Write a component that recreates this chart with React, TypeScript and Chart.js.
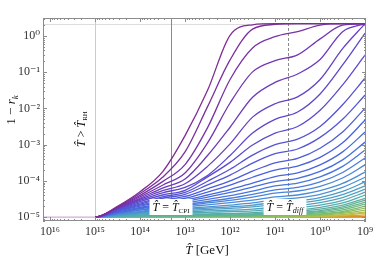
import React, { useEffect, useRef } from 'react';
import { Chart, registerables } from 'chart.js';

Chart.register(...registerables);

// Temperatures (GeV) at which every curve is sampled
const T_GEV = [1.43e16, 1e15, 3.16e14, 1e14, 3.16e13, 1e13, 3.16e12, 1e12, 3.16e11, 1e11, 3.16e10, 1e10, 3.16e9, 1e9];

// log10(1 - r_k) for each mode k, top (purple) to bottom (orange)
const c01 = [-5, -5, -4.7, -4.3, -3.75, -2.75, -1.5, 0.02, 0.31, 0.34, 0.34, 0.34, 0.34, 0.34];
const c02 = [-5, -5, -4.72, -4.35, -3.9, -3.2, -1.95, -0.66, 0.19, 0.32, 0.34, 0.34, 0.34, 0.34];
const c03 = [-5, -5, -4.73, -4.4, -4.02, -3.55, -2.53, -1.2, -0.33, -0.02, 0.12, 0.3, 0.34, 0.34];
const c04 = [-5, -5, -4.74, -4.44, -4.12, -3.78, -2.95, -1.85, -0.99, -0.68, -0.52, -0.08, 0.3, 0.34];
const c05 = [-5, -5, -4.75, -4.48, -4.2, -3.95, -3.3, -2.52, -1.69, -1.28, -1.05, -0.65, 0.12, 0.34];
const c06 = [-5, -5, -4.76, -4.51, -4.27, -4.08, -3.6, -2.98, -2.24, -1.87, -1.68, -1.2, -0.35, 0.34];
const c07 = [-5, -5, -4.77, -4.54, -4.33, -4.18, -3.85, -3.3, -2.68, -2.3, -2.1, -1.6, -0.8, 0.08];
const c08 = [-5, -5, -4.78, -4.57, -4.39, -4.26, -3.89, -3.49, -3.01, -2.68, -2.5, -2.05, -1.35, -0.52];
const c09 = [-5, -5, -4.8, -4.61, -4.44, -4.32, -4.01, -3.68, -3.29, -3.0, -2.85, -2.5, -1.9, -1.16];
const c10 = [-5, -5, -4.81, -4.64, -4.48, -4.37, -4.11, -3.84, -3.51, -3.25, -3.12, -2.8, -2.3, -1.63];
const c11 = [-5, -5, -4.83, -4.67, -4.53, -4.43, -4.22, -4.0, -3.73, -3.5, -3.38, -3.1, -2.65, -1.99];
const c12 = [-5, -5, -4.84, -4.7, -4.57, -4.48, -4.31, -4.12, -3.9, -3.7, -3.59, -3.35, -2.95, -2.32];
const c13 = [-5, -5, -4.86, -4.73, -4.62, -4.53, -4.39, -4.24, -4.06, -3.88, -3.78, -3.56, -3.2, -2.65];
const c14 = [-5, -5, -4.87, -4.75, -4.65, -4.57, -4.45, -4.32, -4.17, -4.02, -3.93, -3.74, -3.42, -2.93];
const c15 = [-5, -5, -4.88, -4.77, -4.68, -4.61, -4.51, -4.41, -4.28, -4.14, -4.06, -3.89, -3.6, -3.15];
const c16 = [-5, -5, -4.9, -4.8, -4.71, -4.65, -4.57, -4.48, -4.37, -4.25, -4.18, -4.03, -3.77, -3.37];
const c17 = [-5, -5, -4.9, -4.81, -4.74, -4.68, -4.61, -4.54, -4.45, -4.34, -4.28, -4.15, -3.92, -3.56];
const c18 = [-5, -5, -4.92, -4.84, -4.77, -4.72, -4.66, -4.6, -4.53, -4.44, -4.39, -4.27, -4.07, -3.76];
const c19 = [-5, -5, -4.93, -4.86, -4.8, -4.76, -4.72, -4.67, -4.61, -4.52, -4.47, -4.37, -4.18, -3.9];
const c20 = [-5, -5, -4.94, -4.88, -4.83, -4.79, -4.75, -4.72, -4.67, -4.59, -4.55, -4.46, -4.29, -4.03];
const c21 = [-5, -5, -4.95, -4.9, -4.85, -4.82, -4.79, -4.76, -4.72, -4.65, -4.61, -4.53, -4.38, -4.14];
const c22 = [-5, -5, -4.96, -4.92, -4.88, -4.86, -4.83, -4.81, -4.78, -4.72, -4.68, -4.6, -4.46, -4.23];
const c23 = [-5, -5, -4.97, -4.94, -4.91, -4.89, -4.87, -4.85, -4.83, -4.77, -4.74, -4.67, -4.54, -4.31];
const c24 = [-5, -5, -4.98, -4.95, -4.93, -4.92, -4.91, -4.9, -4.88, -4.83, -4.8, -4.73, -4.61, -4.39];
const c25 = [-5, -5, -4.98, -4.97, -4.95, -4.94, -4.93, -4.92, -4.91, -4.87, -4.84, -4.78, -4.67, -4.48];
const c26 = [-5, -5, -4.99, -4.97, -4.96, -4.96, -4.95, -4.94, -4.93, -4.9, -4.87, -4.82, -4.72, -4.53];
const c27 = [-5, -5, -4.99, -4.98, -4.97, -4.97, -4.96, -4.96, -4.95, -4.92, -4.9, -4.85, -4.76, -4.59];
const c28 = [-5, -5, -4.99, -4.99, -4.98, -4.98, -4.97, -4.97, -4.96, -4.94, -4.92, -4.88, -4.8, -4.64];
const c29 = [-5, -5, -5, -4.99, -4.99, -4.98, -4.98, -4.98, -4.97, -4.95, -4.94, -4.91, -4.84, -4.7];
const c30 = [-5, -5, -5, -4.99, -4.99, -4.99, -4.98, -4.98, -4.98, -4.97, -4.96, -4.93, -4.87, -4.75];
const c31 = [-5, -5, -5, -5, -4.99, -4.99, -4.99, -4.99, -4.99, -4.98, -4.97, -4.95, -4.9, -4.81];
const c32 = [-5, -5, -5, -5, -5, -4.99, -4.99, -4.99, -4.99, -4.99, -4.98, -4.97, -4.93, -4.86];
const c33 = [-5, -5, -5, -5, -5, -5, -5, -5, -5, -4.99, -4.99, -4.98, -4.95, -4.89];
const c34 = [-5, -5, -5, -5, -5, -5, -5, -5, -5, -5, -5, -4.99, -4.97, -4.94];
const c35 = [-5, -5, -5, -5, -5, -5, -5, -5, -5, -5, -5, -5, -4.99, -4.98];
const c36 = [-5, -5, -5, -5, -5, -5, -5, -5, -5, -5, -5, -5, -5, -5];

const SERIES = [c01, c02, c03, c04, c05, c06, c07, c08, c09, c10, c11, c12, c13, c14, c15, c16, c17, c18,
  c19, c20, c21, c22, c23, c24, c25, c26, c27, c28, c29, c30, c31, c32, c33, c34, c35, c36];

// Reference temperatures (GeV) and levels
const T_RH = 1e15;
const T_CPI = 2.0e13;
const T_DIFF = 5.2e10;
const SAT_LEVEL = 2.19;

// Axis ranges
const X_MIN = 9.55e8;
const X_MAX = 1.43e16;
const Y_MIN = 7.8e-6;
const Y_MAX = 3.14;

const SERIF = '"Liberation Serif", "DejaVu Serif", serif';

const STOPS: [number, number[]][] = [
  [0, [128, 44, 150]],
  [0.1, [112, 56, 182]],
  [0.2, [90, 76, 208]],
  [0.33, [72, 100, 222]],
  [0.48, [75, 138, 216]],
  [0.6, [80, 165, 190]],
  [0.72, [95, 180, 150]],
  [0.82, [130, 190, 100]],
  [0.91, [200, 190, 60]],
  [1, [230, 120, 40]],
];

function colorAt(t: number): string {
  for (let i = 1; i < STOPS.length; i++) {
    const [t1, c1] = STOPS[i];
    const [t0, c0] = STOPS[i - 1];
    if (t <= t1) {
      const f = (t - t0) / (t1 - t0);
      const c = c0.map((v, k) => Math.round(v + (c1[k] - v) * f));
      return `rgb(${c[0]},${c[1]},${c[2]})`;
    }
  }
  return 'rgb(230,120,40)';
}

const SUP: Record<string, string> = {
  '0': '⁰', '1': '¹', '2': '²', '3': '³', '4': '⁴', '5': '⁵', '6': '⁶', '7': '⁷', '8': '⁸', '9': '⁹', '-': '⁻',
};

function powerLabel(value: number): string {
  const e = Math.log10(value);
  const r = Math.round(e);
  if (Math.abs(e - r) > 1e-6) return '';
  return '10' + String(r).split('').map((ch) => SUP[ch] || ch).join('');
}

type Part = { t: string; f: string; dy?: number };

function richWidth(ctx: CanvasRenderingContext2D, parts: Part[]) {
  let w = 0;
  for (const p of parts) {
    ctx.font = p.f;
    w += ctx.measureText(p.t).width;
  }
  return w;
}

function drawRich(ctx: CanvasRenderingContext2D, parts: Part[], cx: number, baseline: number) {
  const w = richWidth(ctx, parts);
  let x = cx - w / 2;
  ctx.textAlign = 'left';
  ctx.textBaseline = 'alphabetic';
  for (const p of parts) {
    ctx.font = p.f;
    ctx.fillText(p.t, x, baseline + (p.dy || 0));
    x += ctx.measureText(p.t).width;
  }
  return w;
}

const hatT = 'T\u0302';

const decor = {
  id: 'decor',
  beforeDatasetsDraw(chart: any) {
    const { ctx, chartArea: a, scales } = chart;
    const x = scales.x;
    const y = scales.y;
    ctx.save();
    ctx.beginPath();
    ctx.rect(a.left, a.top, a.right - a.left, a.bottom - a.top);
    ctx.clip();
    const ys = Math.round(y.getPixelForValue(SAT_LEVEL)) + 0.5;
    ctx.strokeStyle = '#dddddd';
    ctx.lineWidth = 1;
    ctx.beginPath();
    ctx.moveTo(a.left, ys);
    ctx.lineTo(a.right, ys);
    ctx.stroke();
    const xr = Math.round(x.getPixelForValue(T_RH)) + 0.5;
    ctx.strokeStyle = '#cccccc';
    ctx.beginPath();
    ctx.moveTo(xr, a.top);
    ctx.lineTo(xr, a.bottom);
    ctx.stroke();
    const xc = Math.round(x.getPixelForValue(T_CPI)) + 0.5;
    ctx.strokeStyle = '#8a8a8a';
    ctx.beginPath();
    ctx.moveTo(xc, a.top);
    ctx.lineTo(xc, a.bottom);
    ctx.stroke();
    const xd = Math.round(x.getPixelForValue(T_DIFF)) + 0.5;
    ctx.strokeStyle = '#8a8a8a';
    ctx.setLineDash([3, 2]);
    ctx.beginPath();
    ctx.moveTo(xd, a.top);
    ctx.lineTo(xd, a.bottom);
    ctx.stroke();
    ctx.setLineDash([]);
    ctx.restore();
  },
  afterDatasetsDraw(chart: any) {
    const { ctx, chartArea: a, scales } = chart;
    const x = scales.x;
    const y = scales.y;
    ctx.save();
    ctx.fillStyle = '#111';

    const cpiParts: Part[] = [
      { t: hatT, f: `italic 12px ${SERIF}` },
      { t: ' = ', f: `12px ${SERIF}` },
      { t: hatT, f: `italic 12px ${SERIF}` },
      { t: 'CPI', f: `7px ${SERIF}`, dy: 2 },
    ];
    const diffParts: Part[] = [
      { t: hatT, f: `italic 12px ${SERIF}` },
      { t: ' = ', f: `12px ${SERIF}` },
      { t: hatT, f: `italic 12px ${SERIF}` },
      { t: 'diff', f: `italic 8px ${SERIF}`, dy: 2 },
    ];
    const boxes: [Part[], number][] = [[cpiParts, 171], [diffParts, 285]];
    for (const [parts, cx] of boxes) {
      const w = richWidth(ctx, parts);
      ctx.fillStyle = '#ffffff';
      ctx.fillRect(cx - w / 2 - 3, 199, w + 6, 16);
      ctx.fillStyle = '#111';
      drawRich(ctx, parts, cx, 211);
    }

    ctx.save();
    ctx.translate(81, 129);
    ctx.rotate(-Math.PI / 2);
    drawRich(ctx, [
      { t: hatT, f: `italic 12px ${SERIF}` },
      { t: ' > ', f: `12px ${SERIF}` },
      { t: hatT, f: `italic 12px ${SERIF}` },
      { t: 'RH', f: `7px ${SERIF}`, dy: 2 },
    ], 0, 4);
    ctx.restore();

    ctx.strokeStyle = '#8c8c8c';
    ctx.lineWidth = 1;
    ctx.strokeRect(a.left + 0.5, a.top + 0.5, a.right - a.left - 1, a.bottom - a.top - 1);

    ctx.beginPath();
    for (let d = 8; d <= 16; d++) {
      for (let m = 1; m <= 9; m++) {
        const v = m * Math.pow(10, d);
        if (v < X_MIN || v > X_MAX) continue;
        const px = Math.round(x.getPixelForValue(v)) + 0.5;
        const len = m === 1 ? 4 : 2;
        ctx.moveTo(px, a.bottom);
        ctx.lineTo(px, a.bottom - len);
        ctx.moveTo(px, a.top);
        ctx.lineTo(px, a.top + len);
      }
    }
    for (let d = -6; d <= 0; d++) {
      for (let m = 1; m <= 9; m++) {
        const v = m * Math.pow(10, d);
        if (v < Y_MIN || v > Y_MAX) continue;
        const py = Math.round(y.getPixelForValue(v)) + 0.5;
        const len = m === 1 ? 4 : 2;
        ctx.moveTo(a.left, py);
        ctx.lineTo(a.left + len, py);
        ctx.moveTo(a.right, py);
        ctx.lineTo(a.right - len, py);
      }
    }
    ctx.stroke();

    ctx.fillStyle = '#111';
    drawRich(ctx, [
      { t: hatT, f: `italic 13px ${SERIF}` },
      { t: ' [GeV]', f: `13px ${SERIF}` },
    ], 207, 254);

    ctx.save();
    ctx.translate(11, 110);
    ctx.rotate(-Math.PI / 2);
    drawRich(ctx, [
      { t: '1 − ', f: `13px ${SERIF}` },
      { t: 'r', f: `italic 13px ${SERIF}` },
      { t: 'k', f: `italic 9px ${SERIF}`, dy: 3 },
    ], 0, 4);
    ctx.restore();

    ctx.restore();
  },
};

export default function App() {
  const ref = useRef<HTMLCanvasElement>(null);

  useEffect(() => {
    const canvas = ref.current;
    if (!canvas) return;
    const n = SERIES.length;
    const datasets = SERIES.map((s, i) => ({
      label: `k${i + 1}`,
      data: T_GEV.map((t, j) => ({ x: t, y: Math.pow(10, s[j]) })),
      borderColor: colorAt(i / (n - 1)),
      borderWidth: 1.3,
      pointRadius: 0,
      fill: false,
      cubicInterpolationMode: 'monotone' as const,
      segment: {
        borderColor: (ctx: any) =>
          ctx.p0.parsed.x > T_RH * 1.01 ? (i === 0 ? '#d4a9dc' : 'rgba(0,0,0,0)') : undefined,
      },
    }));

    const chart = new Chart(canvas, {
      type: 'line',
      data: { datasets },
      options: {
        responsive: false,
        animation: false,
        devicePixelRatio: 1,
        layout: { padding: { top: 18, right: 8, left: 0, bottom: 0 } },
        plugins: { legend: { display: false }, tooltip: { enabled: false } },
        scales: {
          x: {
            type: 'logarithmic',
            reverse: true,
            min: X_MIN,
            max: X_MAX,
            grid: { display: false, drawTicks: false },
            border: { display: false },
            ticks: {
              autoSkip: false,
              maxRotation: 0,
              minRotation: 0,
              padding: 4,
              color: '#333',
              font: { family: SERIF, size: 12 },
              callback: (v: any) => powerLabel(Number(v)),
            },
            afterFit: (s: any) => { s.height = 39; },
          },
          y: {
            type: 'logarithmic',
            min: Y_MIN,
            max: Y_MAX,
            grid: { display: false, drawTicks: false },
            border: { display: false },
            ticks: {
              autoSkip: false,
              padding: 3,
              color: '#333',
              font: { family: SERIF, size: 12 },
              callback: (v: any) => powerLabel(Number(v)),
            },
            afterFit: (s: any) => { s.width = 43; },
          },
        },
      },
      plugins: [decor],
    });
    return () => chart.destroy();
  }, []);

  return (
    <canvas
      ref={ref}
      width={374}
      height={260}
      style={{ position: 'fixed', left: 0, top: 0, width: 374, height: 260, display: 'block' }}
    />
  );
}
